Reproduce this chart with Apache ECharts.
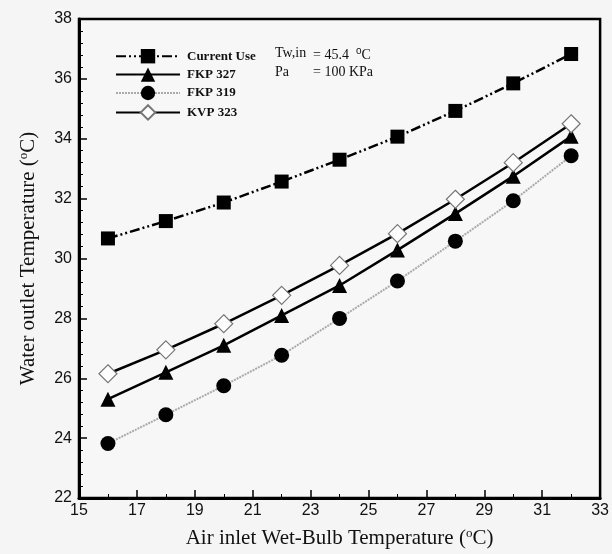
<!DOCTYPE html>
<html><head><meta charset="utf-8">
<script src="https://cdn.jsdelivr.net/npm/echarts@6/dist/echarts.min.js"></script>
<style>html,body{margin:0;padding:0;background:#f5f5f5;}#c{width:612px;height:554px;}</style>
</head><body><div id="c"></div>
<script>
const xValues = [16, 18, 20, 22, 24, 26, 28, 30, 32];
const currentUse = [30.67, 31.25, 31.87, 32.57, 33.3, 34.07, 34.93, 35.85, 36.83];
const fkp327 = [25.3, 26.2, 27.1, 28.1, 29.1, 30.28, 31.5, 32.75, 34.08];
const fkp319 = [23.82, 24.78, 25.75, 26.77, 28.0, 29.25, 30.58, 31.93, 33.43];
const kvp323 = [26.15, 26.95, 27.82, 28.77, 29.77, 30.83, 31.98, 33.2, 34.5];
const xMajorTicks = [15, 17, 19, 21, 23, 25, 27, 29, 31, 33];
const xMinorTicks = [16, 18, 20, 22, 24, 26, 28, 30, 32];

const pair = arr => xValues.map((x, i) => [x, arr[i]]);
const chart = echarts.init(document.getElementById('c'));
const serif = '"Liberation Serif","Times New Roman",serif';
const sans = '"Liberation Sans",Arial,sans-serif';
const baseX = {
  type: 'value', min: 15, max: 33, interval: 1, gridIndex: 0,
  splitLine: {show: false}
};
const supRich = {s: {fontSize: 13, verticalAlign: 'top', padding: [0, 0, 10, 0], fontFamily: serif, color: '#111'}};
chart.setOption({
  backgroundColor: '#f5f5f5',
  animation: false,
  grid: {left: 79, right: 5, top: 19, bottom: 55, show: true, borderColor: '#000', borderWidth: 2.5, backgroundColor: '#f7f7f7'},
  legend: {
    orient: 'vertical', left: 110, top: 44, itemWidth: 64, itemHeight: 18, itemGap: 4,
    textStyle: {fontFamily: serif, fontSize: 13, fontWeight: 'bold', color: '#111', padding: [0, 0, 0, 2]},
    data: ['Current Use', 'FKP 327', 'FKP 319', 'KVP 323']
  },
  xAxis: [
    Object.assign({}, baseX, {
      position: 'bottom',
      name: 'Air inlet Wet-Bulb Temperature ({s|o}C)', nameLocation: 'middle', nameGap: 29,
      nameTextStyle: {fontFamily: serif, fontSize: 21, color: '#111', rich: supRich},
      axisLine: {show: true, lineStyle: {color: '#000', width: 3}},
      axisTick: {show: true, inside: true, length: 8, lineStyle: {color: '#000', width: 1.5}, customValues: xMajorTicks},
      axisLabel: {fontFamily: sans, fontSize: 16, color: '#111', margin: 5, customValues: xMajorTicks}
    }),
    Object.assign({}, baseX, {
      position: 'bottom', offset: 0,
      axisLine: {show: false},
      axisTick: {show: true, inside: true, length: 4, lineStyle: {color: '#000', width: 1}, customValues: xMinorTicks},
      axisLabel: {show: false}
    })
  ],
  yAxis: {
    type: 'value', min: 22, max: 38, interval: 2,
    name: 'Water outlet Temperature ({s|o}C)', nameLocation: 'middle', nameGap: 39,
    nameTextStyle: {fontFamily: serif, fontSize: 21, color: '#111', rich: supRich},
    axisLine: {show: true, lineStyle: {color: '#000', width: 3}},
    axisTick: {show: true, inside: true, length: 8, lineStyle: {color: '#000', width: 1.5}},
    minorTick: {show: true, splitNumber: 5, length: 4, lineStyle: {color: '#000', width: 1}},
    axisLabel: {fontFamily: sans, fontSize: 16, color: '#111', margin: 7},
    splitLine: {show: false}
  },
  graphic: [
    {type: 'text', left: 275, top: 46, style: {text: 'Tw,in', font: '14px ' + serif, fill: '#111'}},
    {type: 'text', left: 313, top: 46, style: {text: '= 45.4  {s|o}C', font: '14px ' + serif, fill: '#111', rich: {s: {fontSize: 10, verticalAlign: 'top', padding: [0, 0, 8, 0]}}}},
    {type: 'text', left: 275, top: 65, style: {text: 'Pa', font: '14px ' + serif, fill: '#111'}},
    {type: 'text', left: 313, top: 65, style: {text: '= 100 KPa', font: '14px ' + serif, fill: '#111'}}
  ],
  series: [
    {name: 'Current Use', type: 'line', data: pair(currentUse), symbol: 'rect', symbolSize: 14,
     itemStyle: {color: '#000'}, lineStyle: {color: '#000', width: 2.5, type: [10, 3, 2, 3, 2, 3]}},
    {name: 'FKP 327', type: 'line', data: pair(fkp327), symbol: 'triangle', symbolSize: 15,
     itemStyle: {color: '#000'}, lineStyle: {color: '#000', width: 2.5}},
    {name: 'FKP 319', type: 'line', data: pair(fkp319), symbol: 'circle', symbolSize: 15,
     itemStyle: {color: '#000'}, lineStyle: {color: '#aaa', width: 2, type: [2, 1]}},
    {name: 'KVP 323', type: 'line', data: pair(kvp323), symbol: 'diamond', symbolSize: 18,
     itemStyle: {color: '#fff', borderColor: '#777', borderWidth: 1.2}, lineStyle: {color: '#000', width: 2.5}, z: 3}
  ]
});
</script></body></html>
